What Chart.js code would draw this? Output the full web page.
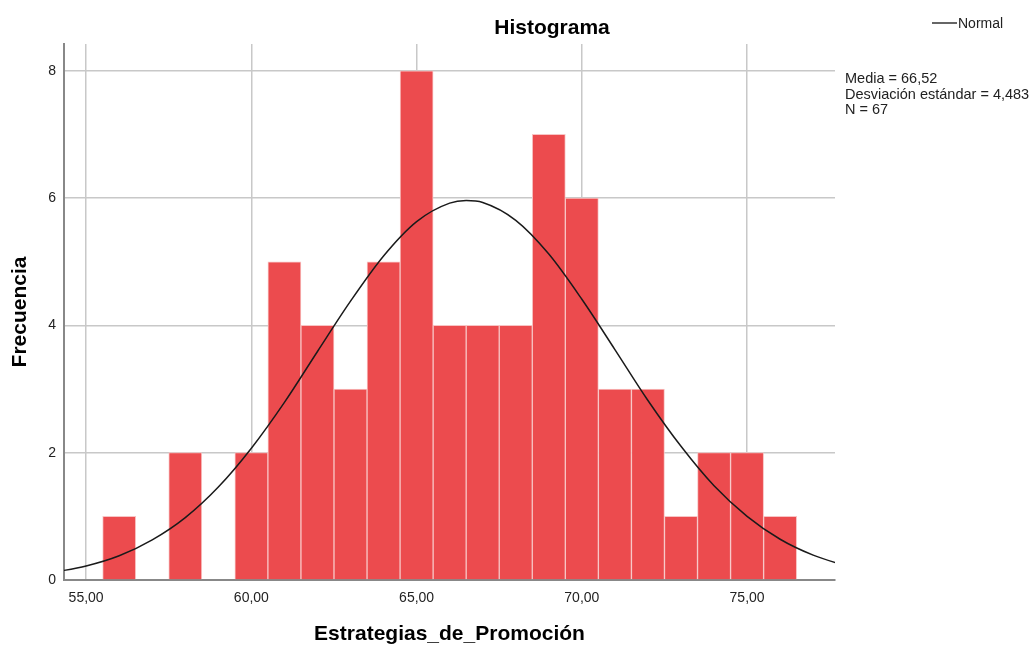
<!DOCTYPE html>
<html>
<head>
<meta charset="utf-8">
<script src="https://cdn.jsdelivr.net/npm/chart.js@4/dist/chart.umd.min.js"></script>
<style>
  html, body { margin: 0; padding: 0; background: #fff; }
  #wrap { width: 1032px; height: 646px; position: relative; }
</style>
</head>
<body>
<div id="wrap"><canvas id="c" width="1032" height="646"></canvas></div>
<script>
// bins (centre of each 1-unit bin) and counts
const binCentres = [56, 57, 58, 59, 60, 61, 62, 63, 64, 65, 66, 67, 68, 69, 70, 71, 72, 73, 74, 75, 76]
const counts     = [ 1,  0,  2,  0,  2,  5,  4,  3,  5,  8,  4,  4,  4,  7,  6,  3,  3,  1,  2,  2,  1]

// normal curve
const curveX = [54, 55, 56, 57, 58, 59, 60, 61, 62, 63, 64, 65, 66, 66.5, 67, 68, 69, 70, 71, 72, 73, 74, 75, 76, 77, 78]
const curveY = [0.12, 0.22, 0.38, 0.63, 0.98, 1.46, 2.07, 2.79, 3.59, 4.38, 5.09, 5.63, 5.92, 5.96, 5.93, 5.65, 5.12, 4.41, 3.62, 2.82, 2.10, 1.48, 1.00, 0.64, 0.39, 0.22]

const xTicks = [55, 60, 65, 70, 75]
const xTickLabels = ['55,00', '60,00', '65,00', '70,00', '75,00']
const yTicks = [0, 2, 4, 6, 8]

const statsLines = ['Media = 66,52', 'Desviación estándar = 4,483', 'N = 67']

const FONT = '"Liberation Sans", Arial, sans-serif'

const textPlugin = {
  id: 'texts',
  afterDraw(chart) {
    const ctx = chart.ctx
    const area = chart.chartArea
    ctx.save()
    ctx.fillStyle = '#000'
    // title
    ctx.font = 'bold 21px ' + FONT
    ctx.textAlign = 'center'
    ctx.textBaseline = 'middle'
    ctx.fillText('Histograma', 552, 28)
    // x title
    ctx.fillText('Estrategias_de_Promoción', (area.left + area.right) / 2, 634)
    // y title
    ctx.save()
    ctx.translate(20, (area.top + area.bottom) / 2)
    ctx.rotate(-Math.PI / 2)
    ctx.fillText('Frecuencia', 0, 0)
    ctx.restore()
    // legend
    ctx.strokeStyle = '#333'
    ctx.lineWidth = 1.5
    ctx.beginPath()
    ctx.moveTo(932, 23)
    ctx.lineTo(957, 23)
    ctx.stroke()
    ctx.font = '14px ' + FONT
    ctx.textAlign = 'left'
    ctx.fillStyle = '#222'
    ctx.fillText('Normal', 958, 24)
    // stats
    ctx.font = '14.5px ' + FONT
    statsLines.forEach((s, i) => ctx.fillText(s, 845, 79 + i * 15.5))
    ctx.restore()
  }
}

new Chart(document.getElementById('c').getContext('2d'), {
  data: {
    datasets: [
      {
        type: 'line',
        data: curveX.map((x, i) => ({ x: x, y: curveY[i] })),
        borderColor: '#1a1a1a',
        borderWidth: 1.5,
        pointRadius: 0,
        fill: false,
        cubicInterpolationMode: 'monotone',
        order: 0
      },
      {
        type: 'bar',
        data: binCentres.map((x, i) => ({ x: x, y: counts[i] })),
        backgroundColor: '#ec4b4e',
        borderColor: '#f8c4c4',
        borderWidth: 1,
        barPercentage: 1,
        categoryPercentage: 1,
        order: 1
      }
    ]
  },
  options: {
    responsive: false,
    animation: false,
    layout: { padding: { left: 0, top: 44, right: 197, bottom: 0 } },
    plugins: {
      legend: { display: false },
      tooltip: { enabled: false },
      title: { display: false }
    },
    scales: {
      x: {
        type: 'linear',
        min: 54.33,
        max: 77.66,
        offset: false,
        afterBuildTicks: s => { s.ticks = xTicks.map(v => ({ value: v })) },
        afterFit: s => { s.height = 66 },
        ticks: {
          callback: v => xTickLabels[xTicks.indexOf(v)],
          font: { family: FONT, size: 14 },
          color: '#222',
          padding: 10,
          maxRotation: 0,
          autoSkip: false
        },
        grid: { offset: false, color: '#c8c8c8', lineWidth: 1.5, drawTicks: false },
        border: { display: true, color: '#888', width: 2 }
      },
      y: {
        type: 'linear',
        min: 0,
        max: 8.42,
        afterBuildTicks: s => { s.ticks = yTicks.map(v => ({ value: v })) },
        afterFit: s => { s.width = 64 },
        ticks: {
          font: { family: FONT, size: 14 },
          color: '#222',
          padding: 8
        },
        grid: { color: '#c8c8c8', lineWidth: 1.5, drawTicks: false },
        border: { display: true, color: '#888', width: 2 }
      }
    }
  },
  plugins: [textPlugin]
})
</script>
</body>
</html>
